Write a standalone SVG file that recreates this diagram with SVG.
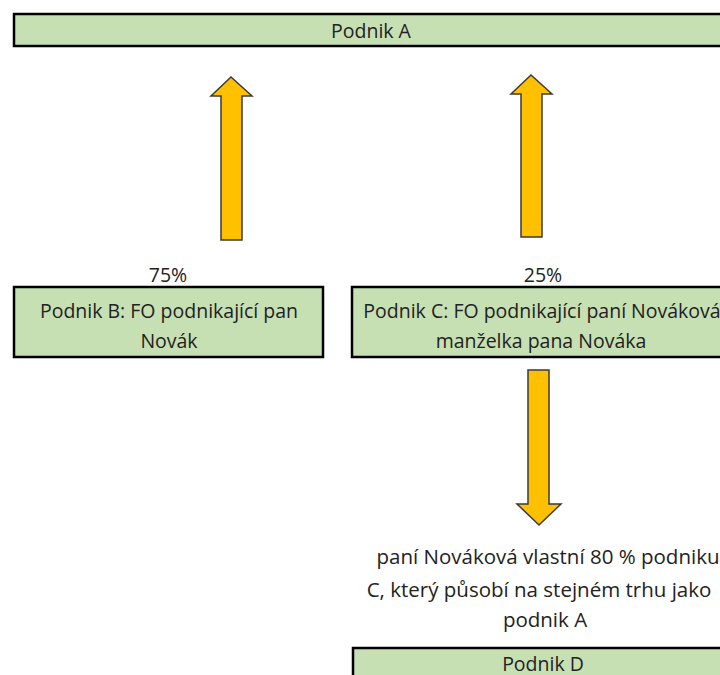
<svg xmlns="http://www.w3.org/2000/svg" width="720" height="675" viewBox="0 0 720 675">
<style>
.box{fill:#C6E0B4;stroke:#000;stroke-width:2.5}
.arr{fill:#FFC000;stroke:#3a3a3a;stroke-width:1.5;stroke-linejoin:miter}
text{font-family:"Open Sans","Liberation Sans",sans-serif;font-size:19.5px;fill:#222;text-anchor:middle;dominant-baseline:central}
.note{font-size:20.5px}
</style>
<rect width="720" height="675" fill="#fff"/>
<g id="podnikA">
<rect class="box" x="14" y="14" width="720" height="32"/>
<text x="371" y="30">Podnik A</text>
</g>
<g id="podnikB">
<rect class="box" x="14" y="287" width="309" height="70"/>
<text x="169" y="310">Podnik B: FO podnikající pan</text>
<text x="169" y="340">Novák</text>
</g>
<g id="podnikC">
<rect class="box" x="352" y="287" width="380" height="70"/>
<text x="542" y="310">Podnik C: FO podnikající paní Nováková</text>
<text x="541" y="340">manželka pana Nováka</text>
</g>
<g id="podnikD">
<rect class="box" x="353" y="648" width="380" height="40"/>
<text x="543" y="663">Podnik D</text>
</g>
<g id="connectors">
<path class="arr" d="M231,77 L252,96 L242,96 L242,240 L221,240 L221,96 L211,96 Z"/>
<path class="arr" d="M531,75 L552,94 L542,94 L542,237 L521,237 L521,94 L511,94 Z"/>
<path class="arr" d="M528,370 L549,370 L549,504 L561,504 L539,525 L517,504 L528,504 Z"/>
<text x="168" y="274">75%</text>
<text x="543" y="274">25%</text>
<text class="note" x="548" y="556">paní Nováková vlastní 80 % podniku</text>
<text class="note" x="539" y="589">C, který působí na stejném trhu jako</text>
<text class="note" x="545" y="619">podnik A</text>
</g>
</svg>
